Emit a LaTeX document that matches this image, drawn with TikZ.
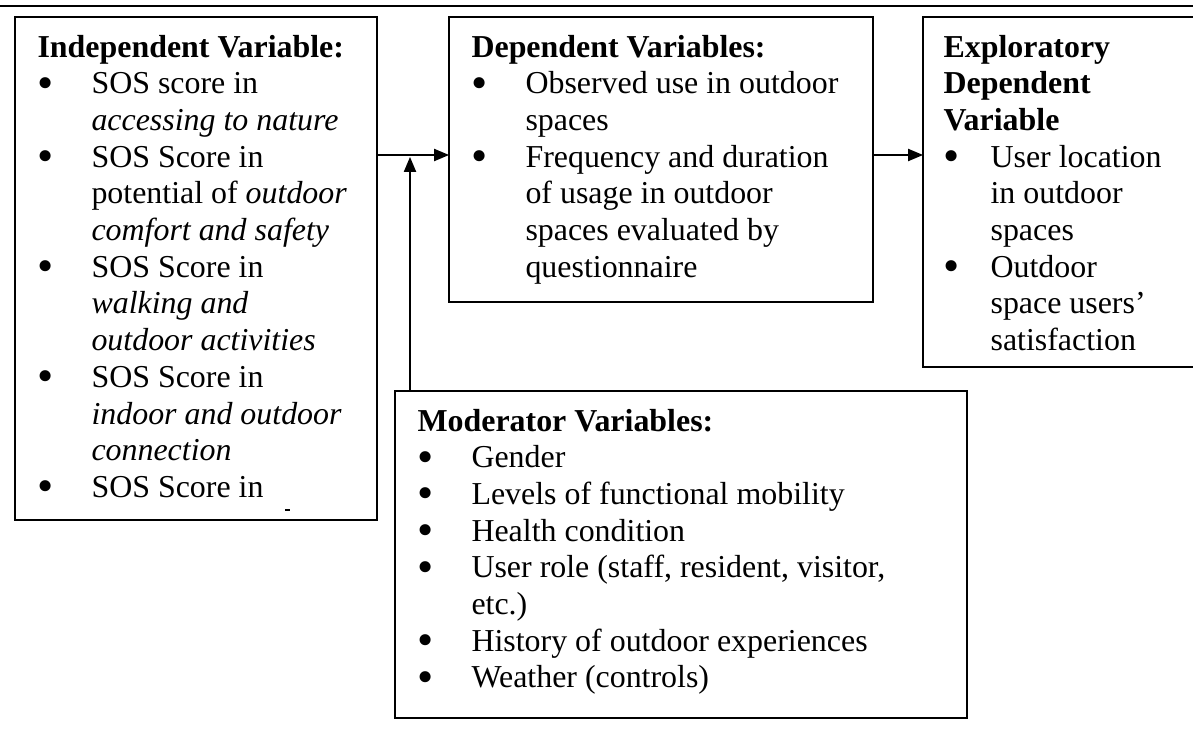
\documentclass[tikz,border=0pt]{standalone}
\usepackage{fontspec}
\setmainfont{Liberation Serif}
\usetikzlibrary{arrows.meta}
\def\pxu{0.376pt}
\newcommand\bul{\smash{\raisebox{-1.7pt}{\scalebox{1.45}{•}}}}
\begin{document}
\begin{tikzpicture}[x=0.376pt,y=-0.376pt,
  frame/.style={draw, line width=0.55pt, inner sep=0pt, outer sep=0pt, anchor=north west},
  txt/.style={anchor=base west, inner sep=0pt, font=\fontsize{12pt}{13.8pt}\selectfont},
  arr/.style={line width=0.45pt, -{Triangle[length=5.6pt,width=4.6pt]}}]
\useasboundingbox (0,0) rectangle (1193,730);
\clip (0,0) rectangle (1193,730);
\draw[line width=0.75pt] (0,6) -- (1193,6);
% boxes
\node[frame, minimum width={362*\pxu}, minimum height={503*\pxu}] (indep) at (15,17) {};
\node[frame, minimum width={424*\pxu}, minimum height={285*\pxu}] (dep) at (449,17) {};
\node[frame, minimum width={300*\pxu}, minimum height={350*\pxu}] (expl) at (923,17) {};
\node[frame, minimum width={572*\pxu}, minimum height={327*\pxu}] (mod) at (395,391) {};
% texts
\node[txt] (indeptext) at (37,57) {\begin{tabular}[t]{@{}p{20.3pt}@{}l@{}}
\multicolumn{2}{@{}l@{}}{\textbf{Independent Variable:}}\\
\bul & SOS score in\\
 & \textit{accessing to nature}\\
\bul & SOS Score in\\
 & potential of \textit{outdoor}\\
 & \textit{comfort and safety}\\
\bul & SOS Score in\\
 & \textit{walking and}\\
 & \textit{outdoor activities}\\
\bul & SOS Score in\\
 & \textit{indoor and outdoor}\\
 & \textit{connection}\\
\bul & SOS Score in
\end{tabular}};
\node[txt] (deptext) at (471,57) {\begin{tabular}[t]{@{}p{20.3pt}@{}l@{}}
\multicolumn{2}{@{}l@{}}{\textbf{Dependent Variables:}}\\
\bul & Observed use in outdoor\\
 & spaces\\
\bul & Frequency and duration\\
 & of usage in outdoor\\
 & spaces evaluated by\\
 & questionnaire
\end{tabular}};
\node[txt] (expltext) at (943,57) {\begin{tabular}[t]{@{}p{17.7pt}@{}l@{}}
\multicolumn{2}{@{}l@{}}{\textbf{Exploratory}}\\
\multicolumn{2}{@{}l@{}}{\textbf{Dependent}}\\
\multicolumn{2}{@{}l@{}}{\textbf{Variable}}\\
\bul & User location\\
 & in outdoor\\
 & spaces\\
\bul & Outdoor\\
 & space users’\\
 & satisfaction
\end{tabular}};
\node[txt] (modtext) at (417,431) {\begin{tabular}[t]{@{}p{20.3pt}@{}l@{}}
\multicolumn{2}{@{}l@{}}{\textbf{Moderator Variables:}}\\
\bul & Gender\\
\bul & Levels of functional mobility\\
\bul & Health condition\\
\bul & User role (staff, resident, visitor,\\
 & etc.)\\
\bul & History of outdoor experiences\\
\bul & Weather (controls)
\end{tabular}};
% clipped remnant of a further line
\draw[line width=0.4pt] (285,510) -- (290,510);
% connectors
\coordinate (ar) at (0,155);
\coordinate (vt) at (410,157);
\draw[arr] (indep.east |- ar) -- (dep.west |- ar);
\draw[arr] (dep.east |- ar) -- (expl.west |- ar);
\draw[arr] (mod.north -| vt) -- (vt);
\end{tikzpicture}
\end{document}
